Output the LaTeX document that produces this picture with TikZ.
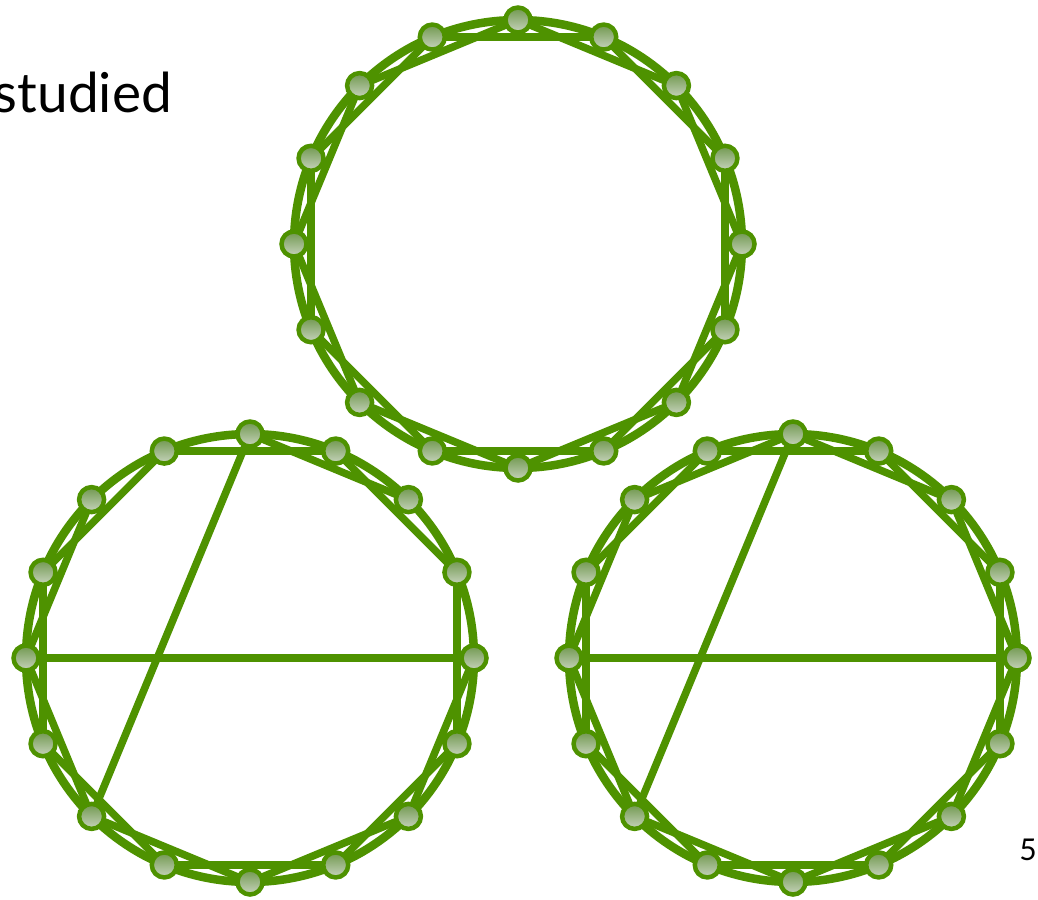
\documentclass[tikz,border=0pt]{standalone}
\usepackage{fontspec}
\setmainfont{Lato}
\usetikzlibrary{backgrounds}
\definecolor{grn}{RGB}{78,146,0}
\definecolor{ntop}{RGB}{112,152,78}
\definecolor{nbot}{RGB}{200,212,190}
\begin{document}
\begin{tikzpicture}[x=1pt,y=-1pt,
  vtx/.style={circle,draw=grn,line width=4.5pt,inner sep=0pt,minimum size=25pt,top color=ntop,bottom color=nbot},
  ring/.style={draw=grn,line width=8.5pt},
  chord/.style={draw=grn,line width=7.5pt}]
\useasboundingbox (0,0) rectangle (1038,899);
\foreach \nm/\cx/\cy in {T/518/244, L/250/658, R/793/658}{
  \coordinate (\nm c) at (\cx,\cy);
  \foreach \k in {0,...,15}{
    \node[vtx] (\nm\k) at ({\cx+224*cos(90-22.5*\k)},{\cy-224*sin(90-22.5*\k)}) {};
  }
}
\begin{pgfonlayer}{background}
  \foreach \nm in {T,L,R} \draw[ring] (\nm c) circle[radius=224];
  \foreach \i in {0,...,15}{
    \pgfmathtruncatemacro\j{mod(\i+2,16)}
    \draw[chord] (T\i.center) -- (T\j.center);
    \draw[chord] (R\i.center) -- (R\j.center);
  }
  \foreach \i in {0,1,3,4,5,6,7,8,9,10,11,12,13,15}{
    \pgfmathtruncatemacro\j{mod(\i+2,16)}
    \draw[chord] (L\i.center) -- (L\j.center);
  }
  \draw[chord] (L0.center) -- (L10.center);
  \draw[chord] (L12.center) -- (L4.center);
  \draw[chord] (R0.center) -- (R10.center);
  \draw[chord] (R12.center) -- (R4.center);
\end{pgfonlayer}
\node[anchor=base east,inner sep=0pt,font=\fontsize{55}{60}\selectfont] (txt) at (172,112) {studied};
\node[anchor=base,inner sep=0pt,font=\fontsize{30}{34}\selectfont] (pg) at (1028,860) {5};
\end{tikzpicture}
\end{document}
